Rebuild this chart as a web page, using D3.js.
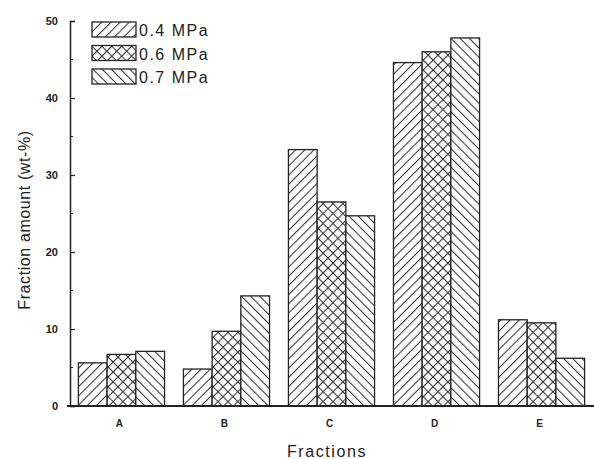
<!DOCTYPE html>
<html>
<head>
<meta charset="utf-8">
<script src="https://cdn.jsdelivr.net/npm/d3@7"></script>
<style>
  body { margin: 0; background: #fff; }
  text { font-family: Arial, "Liberation Sans", sans-serif; fill: #222; }
</style>
</head>
<body>
<div id="chart"></div>
<script>
const fractions = ["A", "B", "C", "D", "E"];
const pressures = ["0.4 MPa", "0.6 MPa", "0.7 MPa"];
const values04 = [5.6, 4.8, 33.3, 44.6, 11.2];
const values06 = [6.7, 9.7, 26.5, 46.0, 10.8];
const values07 = [7.1, 14.3, 24.7, 47.8, 6.2];
const yTicks = [0, 10, 20, 30, 40, 50];

const width = 594, height = 459;
const series = [values04, values06, values07];
const patternIds = ["hatch-fwd", "hatch-cross", "hatch-back"];

const svg = d3.select("#chart").append("svg")
    .attr("width", width)
    .attr("height", height);

//============================ patterns ============================//
const defs = svg.append("defs");

function addLinePattern(id, angle, gap) {
    let p = defs.append("pattern")
        .attr("id", id)
        .attr("patternUnits", "userSpaceOnUse")
        .attr("width", gap)
        .attr("height", gap)
        .attr("patternTransform", `rotate(${angle})`);
    p.append("rect").attr("width", gap).attr("height", gap).attr("fill", "#fff");
    p.append("line")
        .attr("x1", 0.5).attr("y1", 0)
        .attr("x2", 0.5).attr("y2", gap)
        .attr("stroke", "#333").attr("stroke-width", 1.1);
}
addLinePattern("hatch-fwd", 45, 6.5);
addLinePattern("hatch-back", -45, 6.5);

// crosshatch: both diagonals
let cp = defs.append("pattern")
    .attr("id", "hatch-cross")
    .attr("patternUnits", "userSpaceOnUse")
    .attr("width", 7)
    .attr("height", 7)
    .attr("patternTransform", "rotate(45)");
cp.append("rect").attr("width", 7).attr("height", 7).attr("fill", "#fff");
cp.append("line").attr("x1", 0.5).attr("y1", 0).attr("x2", 0.5).attr("y2", 7)
    .attr("stroke", "#333").attr("stroke-width", 1.1);
cp.append("line").attr("x1", 0).attr("y1", 0.5).attr("x2", 7).attr("y2", 0.5)
    .attr("stroke", "#333").attr("stroke-width", 1.1);

//============================ scales ============================//
const y = d3.scaleLinear()
    .domain([0, 50])
    .range([406, 21]);

const x = d3.scaleBand()
    .domain(fractions)
    .range([70, 593])
    .paddingInner(0.18)
    .paddingOuter(0.08);

const xSub = d3.scaleBand()
    .domain(pressures)
    .range([0, x.bandwidth()]);

//============================ bars ============================//
fractions.forEach((f, i) => {
    let g = svg.append("g").attr("transform", `translate(${x(f)},0)`);
    pressures.forEach((p, k) => {
        let v = series[k][i];
        g.append("rect")
            .attr("x", xSub(p))
            .attr("y", y(v))
            .attr("width", xSub.bandwidth())
            .attr("height", y(0) - y(v))
            .attr("fill", `url(#${patternIds[k]})`)
            .attr("stroke", "#222")
            .attr("stroke-width", 1.3);
    });
});

//============================ axes ============================//
const yAxis = d3.axisLeft(y)
    .tickValues(yTicks)
    .tickSize(-5)
    .tickPadding(12)
    .tickFormat(d3.format("d"));

const yg = svg.append("g").attr("transform", "translate(70,0)").call(yAxis);
yg.select(".domain").attr("stroke", "#222").attr("stroke-width", 1.5);
yg.selectAll(".tick line").attr("stroke", "#222").attr("stroke-width", 1.2);
yg.selectAll(".tick text")
    .attr("font-size", 11).attr("font-weight", "bold").attr("fill", "#222")
    .attr("font-family", "Arial, sans-serif");

// minor ticks
yg.selectAll(".minor")
    .data(d3.range(5, 50, 10))
    .join("line")
    .attr("class", "minor")
    .attr("x1", 0).attr("x2", 3)
    .attr("y1", d => y(d)).attr("y2", d => y(d))
    .attr("stroke", "#222").attr("stroke-width", 1);

// x baseline
svg.append("line")
    .attr("x1", 67).attr("x2", width)
    .attr("y1", y(0)).attr("y2", y(0))
    .attr("stroke", "#222").attr("stroke-width", 1.8);

svg.append("g")
    .selectAll("text")
    .data(fractions)
    .join("text")
    .attr("x", d => x(d) + x.bandwidth() / 2 - 2)
    .attr("y", 427)
    .attr("text-anchor", "middle")
    .attr("font-size", 10)
    .attr("font-weight", "bold")
    .text(d => d);

// axis titles
svg.append("text")
    .attr("x", 327)
    .attr("y", 457)
    .attr("text-anchor", "middle")
    .attr("font-size", 16)
    .attr("letter-spacing", 1.6)
    .attr("fill", "#333")
    .text("Fractions");

svg.append("text")
    .attr("transform", "translate(30,220) rotate(-90)")
    .attr("text-anchor", "middle")
    .attr("font-size", 16)
    .attr("letter-spacing", 0.6)
    .attr("fill", "#333")
    .text("Fraction amount (wt-%)");

//============================ legend ============================//
const legend = svg.append("g").attr("transform", "translate(92,22)");
pressures.forEach((p, k) => {
    let row = legend.append("g").attr("transform", `translate(0,${k * 23.5})`);
    row.append("rect")
        .attr("width", 44)
        .attr("height", 15)
        .attr("fill", `url(#${patternIds[k]})`)
        .attr("stroke", "#222")
        .attr("stroke-width", 1.3);
    row.append("text")
        .attr("x", 47)
        .attr("y", 14)
        .attr("font-size", 16)
        .attr("letter-spacing", 1.5)
        .attr("fill", "#333")
        .text(p);
});
</script>
</body>
</html>
